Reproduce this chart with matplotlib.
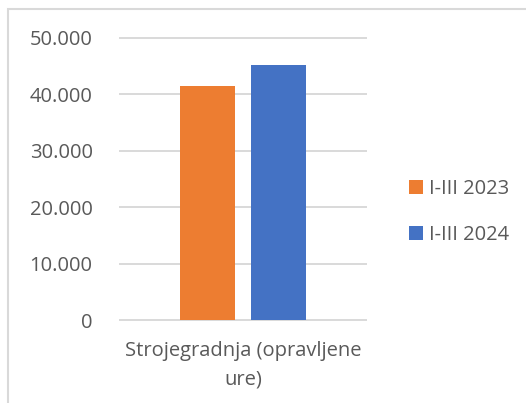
import matplotlib
matplotlib.use("Agg")
import matplotlib.pyplot as plt
from matplotlib.patches import Rectangle
from matplotlib.ticker import FuncFormatter

categories = ["Strojegradnja (opravljene\nure)"]
series_names = ["I-III 2023", "I-III 2024"]
values_2023 = [41400]
values_2024 = [45150]
colors = ["#ED7D31", "#4472C4"]
yticks = [0, 10000, 20000, 30000, 40000, 50000]

plt.rcParams['font.family'] = ['Open Sans', 'DejaVu Sans']
TXT = "#595959"
FS = 14.5

W, H = 526, 403
fig = plt.figure(figsize=(W/100, H/100), dpi=100)

# chart border (only left and top visible in reference)
fig.patches.append(Rectangle((7.5/W, -0.1), 1.2, (H-8.5)/H + 0.1, transform=fig.transFigure,
                             facecolor="white", edgecolor="#D9D9D9", linewidth=1.5, zorder=-10))

y_lo, y_hi = -500, 50500
px_per = 56.46/10000
y_zero = 320
top_px = y_zero - y_hi*px_per
bot_px = y_zero - y_lo*px_per
ax = fig.add_axes([119/W, 1-bot_px/H, (367-119)/W, (bot_px-top_px)/H])
ax.set_facecolor("none")

off = 0.1425
bw = 0.222
x = range(len(categories))
b1 = ax.bar([i - off for i in x], values_2023, width=bw, color=colors[0], label=series_names[0], zorder=3)
b2 = ax.bar([i + off for i in x], values_2024, width=bw, color=colors[1], label=series_names[1], zorder=3)

ax.set_xlim(-0.5, 0.5)
ax.set_ylim(y_lo, y_hi)
ax.set_yticks(yticks)
ax.yaxis.set_major_formatter(FuncFormatter(lambda v, p: f"{int(v):,}".replace(",", ".")))
ax.grid(axis="y", color="#D9D9D9", linewidth=1.4, zorder=0)
ax.set_xticks(list(x))
ax.set_xticklabels(categories, linespacing=1.58)
for s in ax.spines.values():
    s.set_visible(False)
ax.tick_params(axis="y", length=0, pad=19, labelsize=FS, labelcolor=TXT)
ax.tick_params(axis="x", length=0, pad=13, labelsize=FS, labelcolor=TXT)

leg = fig.legend(handles=[b1, b2], labels=series_names, loc="center left",
                 bbox_to_anchor=(391/W, 1-212/H), frameon=False, fontsize=FS,
                 handlelength=0.68, handleheight=0.68, handletextpad=0.3,
                 labelspacing=1.32, labelcolor=TXT)

fig.savefig("out.png", dpi=100)
